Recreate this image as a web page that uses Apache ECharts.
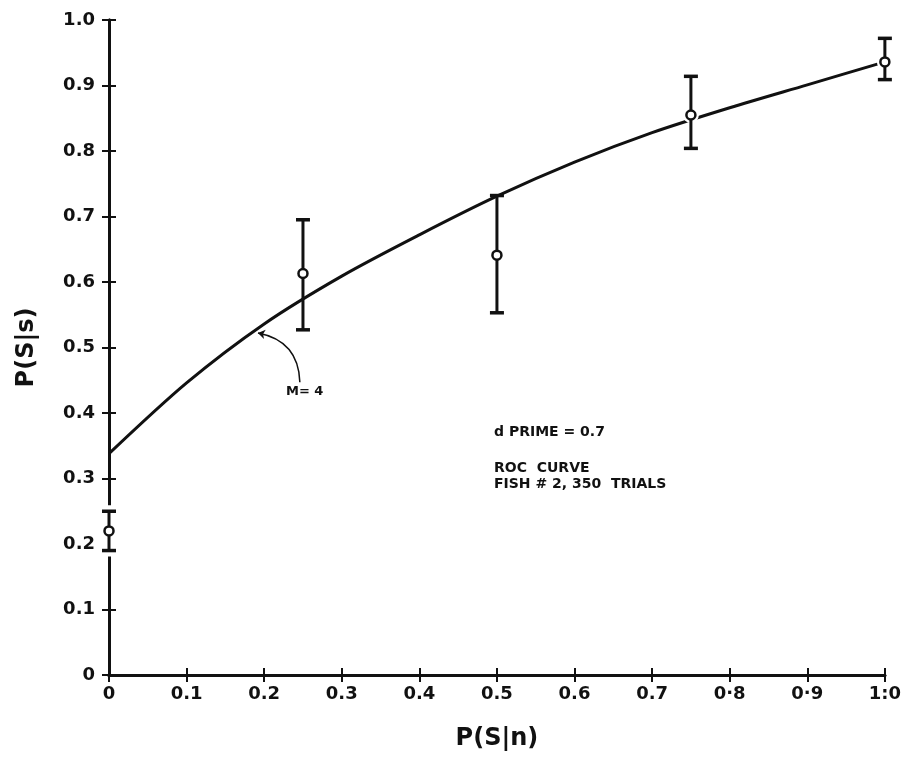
<!DOCTYPE html>
<html>
<head>
<meta charset="utf-8">
<script src="https://cdn.jsdelivr.net/npm/echarts@6/dist/echarts.min.js"></script>
<style>
  html, body { margin: 0; padding: 0; background: #fff; }
  #chart { width: 904px; height: 758px; }
</style>
</head>
<body>
<div id="chart"></div>
<script>
// Tick labels as printed on the axes
const xTickLabels = ['0', '0.1', '0.2', '0.3', '0.4', '0.5', '0.6', '0.7', '0·8', '0·9', '1:0'];
const yTickLabels = ['0', '0.1', '0.2', '0.3', '0.4', '0.5', '0.6', '0.7', '0.8', '0.9', '1.0'];

// Observed operating points with error bars
const falseAlarmRate = [0, 0.25, 0.5, 0.75, 1.0];
const hitRate = [0.22, 0.613, 0.641, 0.855, 0.936];
const hitLow = [0.19, 0.527, 0.553, 0.804, 0.909];
const hitHigh = [0.25, 0.695, 0.732, 0.914, 0.972];

// Fitted ROC curve (M = 4, d' = 0.7), read at evenly spaced false-alarm rates
const rocX = [0, 0.1, 0.2, 0.3, 0.4, 0.5, 0.6, 0.7, 0.8, 0.9, 1.0];
const rocY = [0.338, 0.446, 0.536, 0.609, 0.672, 0.731, 0.783, 0.828, 0.866, 0.901, 0.936];

const points = falseAlarmRate.map((x, i) => [x, hitRate[i], hitLow[i], hitHigh[i]]);
const curve = rocX.map((x, i) => [x, rocY[i]]);

const FONT = '"DejaVu Sans", sans-serif';
const INK = '#111';

const chart = echarts.init(document.getElementById('chart'));

const axisCommon = {
  type: 'value', min: 0, max: 1, interval: 0.1,
  axisLine: { show: true, lineStyle: { color: INK, width: 3 } },
  axisTick: { show: true, inside: false, length: 7, lineStyle: { color: INK, width: 2 } },
  splitLine: { show: false }
};

chart.setOption({
  animation: false,
  backgroundColor: '#fff',
  grid: { left: 109, right: 19, top: 20, bottom: 83 },
  xAxis: [
    Object.assign({}, axisCommon, {
      position: 'bottom',
      name: 'P(S|n)', nameLocation: 'middle', nameGap: 52,
      nameTextStyle: { fontFamily: FONT, fontWeight: 'bold', fontSize: 24, color: INK },
      axisLabel: {
        margin: 10, fontFamily: FONT, fontWeight: 'bold', fontSize: 18, color: INK,
        formatter: v => xTickLabels[Math.round(v * 10)]
      }
    }),
    Object.assign({}, axisCommon, {
      position: 'top', axisLabel: { show: false }
    })
  ],
  yAxis: [
    Object.assign({}, axisCommon, {
      position: 'left',
      name: 'P(S|s)', nameLocation: 'middle', nameGap: 70,
      nameTextStyle: { fontFamily: FONT, fontWeight: 'bold', fontSize: 24, color: INK },
      axisLabel: {
        margin: 14, fontFamily: FONT, fontWeight: 'bold', fontSize: 18, color: INK,
        formatter: v => yTickLabels[Math.round(v * 10)]
      }
    }),
    Object.assign({}, axisCommon, {
      position: 'right', axisLabel: { show: false }
    })
  ],
  series: [
    {
      // white backing behind each error bar (breaks the frame and its ticks where bars sit on it)
      type: 'custom', z: 1, silent: true, clip: false,
      data: points,
      renderItem: (params, api) => {
        const hi = api.coord([api.value(0), api.value(3)]);
        const lo = api.coord([api.value(0), api.value(2)]);
        return {
          type: 'rect',
          shape: { x: hi[0] - 10, y: hi[1] - 6, width: 20, height: lo[1] - hi[1] + 12 },
          style: { fill: '#fff' }
        };
      }
    },
    {
      type: 'line', z: 2, smooth: 0.3, symbol: 'none', clip: false,
      data: curve,
      lineStyle: { color: INK, width: 3 }
    },
    {
      type: 'custom', z: 3, silent: true, clip: false,
      data: points,
      renderItem: (params, api) => {
        const x = api.value(0);
        const mid = api.coord([x, api.value(1)]);
        const lo = api.coord([x, api.value(2)]);
        const hi = api.coord([x, api.value(3)]);
        const capW = 7;
        return {
          type: 'group',
          children: [
            { type: 'circle', shape: { cx: mid[0], cy: mid[1], r: 8 }, style: { fill: '#fff' } },
            { type: 'line', shape: { x1: hi[0], y1: hi[1], x2: lo[0], y2: lo[1] }, style: { stroke: INK, lineWidth: 3 } },
            { type: 'line', shape: { x1: hi[0] - capW, y1: hi[1], x2: hi[0] + capW, y2: hi[1] }, style: { stroke: INK, lineWidth: 3.5 } },
            { type: 'line', shape: { x1: lo[0] - capW, y1: lo[1], x2: lo[0] + capW, y2: lo[1] }, style: { stroke: INK, lineWidth: 3.5 } },
            { type: 'circle', shape: { cx: mid[0], cy: mid[1], r: 4.5 }, style: { fill: '#fff', stroke: INK, lineWidth: 2.5 } }
          ]
        };
      }
    },
    {
      // curved pointer from the "M= 4" label to the curve
      type: 'lines', coordinateSystem: 'cartesian2d', z: 3, silent: true,
      symbol: ['none', 'arrow'], symbolSize: 7,
      lineStyle: { color: INK, width: 1.5, curveness: -0.4, opacity: 1 },
      data: [{ coords: [[0.246, 0.447], [0.192, 0.522]] }]
    }
  ],
  graphic: [
    { type: 'text', left: 286, top: 385, style: { text: 'M= 4', font: 'bold 13px ' + FONT, fill: INK } },
    { type: 'text', left: 494, top: 425, style: { text: 'd PRIME = 0.7', font: 'bold 14px ' + FONT, fill: INK } },
    { type: 'text', left: 494, top: 461, style: { text: 'ROC  CURVE', font: 'bold 14px ' + FONT, fill: INK } },
    { type: 'text', left: 494, top: 477, style: { text: 'FISH # 2, 350  TRIALS', font: 'bold 14px ' + FONT, fill: INK } }
  ]
});
</script>
</body>
</html>
